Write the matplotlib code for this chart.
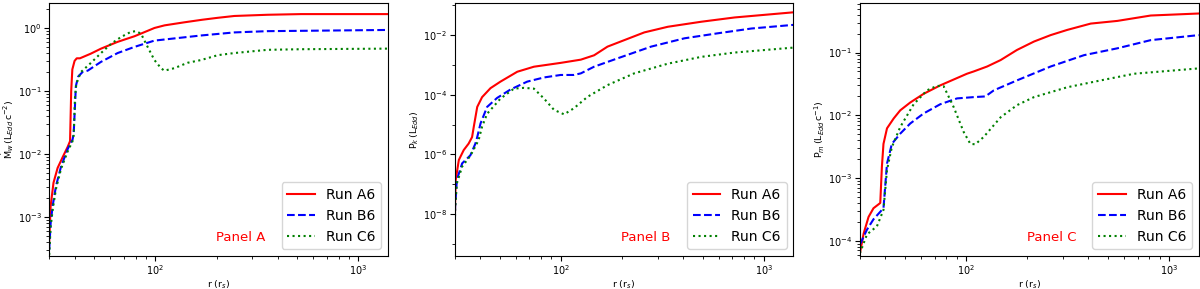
import matplotlib
matplotlib.use('Agg')
import matplotlib.pyplot as plt
from matplotlib.ticker import NullFormatter

# ---- Panel A: mass outflow rate ----
rA_a6 = [30, 30.5, 31.5, 33, 35, 37, 38, 38.5, 39, 40, 41, 42.5, 48, 54, 65, 79, 90, 99, 111, 139, 170, 203, 245, 357, 522, 1400]
mA_a6 = [4e-4, 1.5e-3, 3.5e-3, 6e-3, 9e-3, 1.3e-2, 1.6e-2, 0.1, 0.22, 0.3, 0.33, 0.33, 0.39, 0.47, 0.6, 0.74, 0.88, 1.0, 1.1, 1.23, 1.35, 1.45, 1.55, 1.62, 1.66, 1.66]
rA_b6 = [30, 30.5, 31.2, 32.4, 34.3, 37, 39.1, 39.6, 40.6, 41.7, 43.8, 46.4, 54, 65.2, 78.8, 98.9, 168, 245, 357, 1400]
mA_b6 = [3e-4, 8e-4, 1.5e-3, 3.1e-3, 6.3e-3, 1.2e-2, 1.7e-2, 2.1e-2, 0.12, 0.17, 0.2, 0.21, 0.29, 0.4, 0.5, 0.63, 0.76, 0.85, 0.89, 0.93]
rA_c6 = [30, 30.5, 31.2, 32.4, 34.3, 37, 39.1, 39.6, 40.2, 40.8, 43, 48.2, 54, 60.5, 67.8, 75.9, 80.3, 85, 91.6, 98.9, 106.6, 110.7, 124, 144, 168, 203, 245, 357, 522, 1400]
mA_c6 = [2.5e-4, 7e-4, 1.3e-3, 2.8e-3, 5.8e-3, 1.1e-2, 1.6e-2, 2e-2, 0.08, 0.13, 0.2, 0.28, 0.4, 0.56, 0.72, 0.87, 0.89, 0.81, 0.5, 0.31, 0.23, 0.21, 0.23, 0.28, 0.31, 0.37, 0.4, 0.45, 0.46, 0.47]

# ---- Panel B: kinetic power ----
rB_a6 = [30, 30.2, 30.4, 31.5, 33.3, 35.2, 36.6, 37.3, 38.8, 41, 45.1, 50.5, 61.1, 73.8, 100, 125.6, 146, 170, 206, 258, 337, 492, 719, 1400]
pB_a6 = [1e-9, 2.3e-8, 1.4e-7, 6.5e-7, 1.4e-6, 2.3e-6, 3.8e-6, 8.3e-6, 3.9e-5, 8.3e-5, 1.66e-4, 2.75e-4, 5.9e-4, 8.7e-4, 1.17e-3, 1.5e-3, 2.1e-3, 4.1e-3, 6.8e-3, 1.23e-2, 1.9e-2, 2.8e-2, 3.9e-2, 5.8e-2]
rB_b6 = [30, 30.2, 30.8, 32.7, 35.9, 38, 38.8, 40.3, 43.4, 48.6, 56.6, 68.4, 82.8, 100, 116, 125.6, 146, 190.6, 278.6, 407, 595, 869, 1400]
pB_b6 = [1e-9, 1.8e-8, 1.4e-7, 5e-7, 9.3e-7, 2.3e-6, 3.8e-6, 1.1e-5, 3.9e-5, 7.8e-5, 1.5e-4, 2.75e-4, 3.8e-4, 4.6e-4, 4.6e-4, 5.2e-4, 8.7e-4, 1.66e-3, 4.1e-3, 7.8e-3, 1.15e-2, 1.66e-2, 2.2e-2]
rB_c6 = [30, 30.2, 30.8, 32.7, 35.9, 39.4, 41, 43.4, 50.5, 58.8, 65.9, 73.8, 82.8, 92.7, 103.9, 116, 135.5, 170, 230, 337, 492, 719, 1400]
pB_c6 = [1e-9, 1.5e-8, 1.07e-7, 3.9e-7, 9e-7, 3e-6, 8.5e-6, 2.3e-5, 7.4e-5, 1.6e-4, 1.7e-4, 1.6e-4, 7.4e-5, 3.1e-5, 2.2e-5, 3.5e-5, 8.5e-5, 2.1e-4, 5.2e-4, 1.1e-3, 1.86e-3, 2.6e-3, 3.8e-3]

# ---- Panel C: momentum flux ----
rC_a6 = [30, 31.3, 33.1, 35, 37.8, 38.5, 39.2, 40.8, 44, 47.4, 53.1, 61.8, 74.6, 101, 109, 127, 148, 178, 216, 261, 315, 411, 556, 812, 1400]
pC_a6 = [6.3e-5, 1.3e-4, 2.4e-4, 3.3e-4, 4e-4, 1.5e-3, 3.5e-3, 6.2e-3, 8.9e-3, 1.2e-2, 1.6e-2, 2.2e-2, 3.0e-2, 4.6e-2, 5e-2, 6e-2, 7.6e-2, 0.11, 0.15, 0.19, 0.23, 0.29, 0.32, 0.39, 0.42]
rC_b6 = [30, 32.5, 35, 39.2, 40.8, 43.1, 47.4, 53.1, 61.8, 74.6, 90.3, 109, 124.5, 137, 178, 261, 381, 556, 812, 1400]
pC_b6 = [8.7e-5, 1.5e-4, 2.2e-4, 3.3e-4, 1.7e-3, 3.5e-3, 5.1e-3, 7.4e-3, 1.07e-2, 1.5e-2, 1.86e-2, 1.95e-2, 2e-2, 2.5e-2, 3.6e-2, 6e-2, 9.1e-2, 0.117, 0.158, 0.19]
rC_c6 = [30, 32.5, 36.4, 39.2, 40.8, 43.1, 47.4, 55.2, 64.2, 71.9, 77.6, 86.9, 97.4, 105, 111, 122, 148, 178, 216, 315, 460, 672, 1400]
pC_c6 = [6.3e-5, 1.26e-4, 1.7e-4, 3.1e-4, 1.35e-3, 3.1e-3, 6.5e-3, 1.5e-2, 2.5e-2, 2.95e-2, 2.9e-2, 1.35e-2, 5.4e-3, 3.5e-3, 3.45e-3, 4.5e-3, 9.3e-3, 1.45e-2, 1.95e-2, 2.8e-2, 3.6e-2, 4.6e-2, 5.6e-2]

run_names = ['Run A6', 'Run B6', 'Run C6']
panel_names = ['Panel A', 'Panel B', 'Panel C']
ylabels = [r'$\mathrm{\dot{M}}_w\,(\mathrm{L}_{Edd}\,\mathrm{c}^{-2})$',
           r'$\mathrm{P}_k\,(\mathrm{L}_{Edd})$',
           r'$\mathrm{P}_m\,(\mathrm{L}_{Edd}\,\mathrm{c}^{-1})$']
ylims = [(2.4e-4, 2.5), (3.9e-10, 0.12), (5.7e-5, 0.62)]

panels = [
    [(rA_a6, mA_a6), (rA_b6, mA_b6), (rA_c6, mA_c6)],
    [(rB_a6, pB_a6), (rB_b6, pB_b6), (rB_c6, pB_c6)],
    [(rC_a6, pC_a6), (rC_b6, pC_b6), (rC_c6, pC_c6)],
]
styles = [('r', '-'), ('b', '--'), ('g', ':')]

fig, axes = plt.subplots(1, 3, figsize=(12, 2.89), dpi=100)
fig.subplots_adjust(left=0.041, right=0.999, bottom=0.114, top=0.99, wspace=0.196)

for i, ax in enumerate(axes):
    for (r, v), (c, ls), name in zip(panels[i], styles, run_names):
        ax.plot(r, v, color=c, linestyle=ls, lw=1.5, label=name)
    ax.set_xscale('log')
    ax.set_yscale('log')
    ax.set_xlim(30, 1400)
    ax.set_ylim(*ylims[i])
    ax.set_xlabel(r'r (r$_s$)', fontsize=6.8, labelpad=1)
    ax.set_ylabel(ylabels[i], fontsize=6.8, labelpad=1)
    ax.tick_params(labelsize=7, pad=2)
    ax.legend(loc='lower right', fontsize=10)
    ax.text(0.565, 0.075, panel_names[i], color='red', fontsize=9.5,
            transform=ax.transAxes, ha='center', va='center')

# panel B only labels every second decade
axes[1].set_yticks([1e-8, 1e-6, 1e-4, 1e-2])
axes[1].set_yticks([1e-9, 1e-7, 1e-5, 1e-3, 1e-1], minor=True)
axes[1].yaxis.set_minor_formatter(NullFormatter())
axes[1].set_ylim(*ylims[1])

fig.savefig('out.png', dpi=100)
